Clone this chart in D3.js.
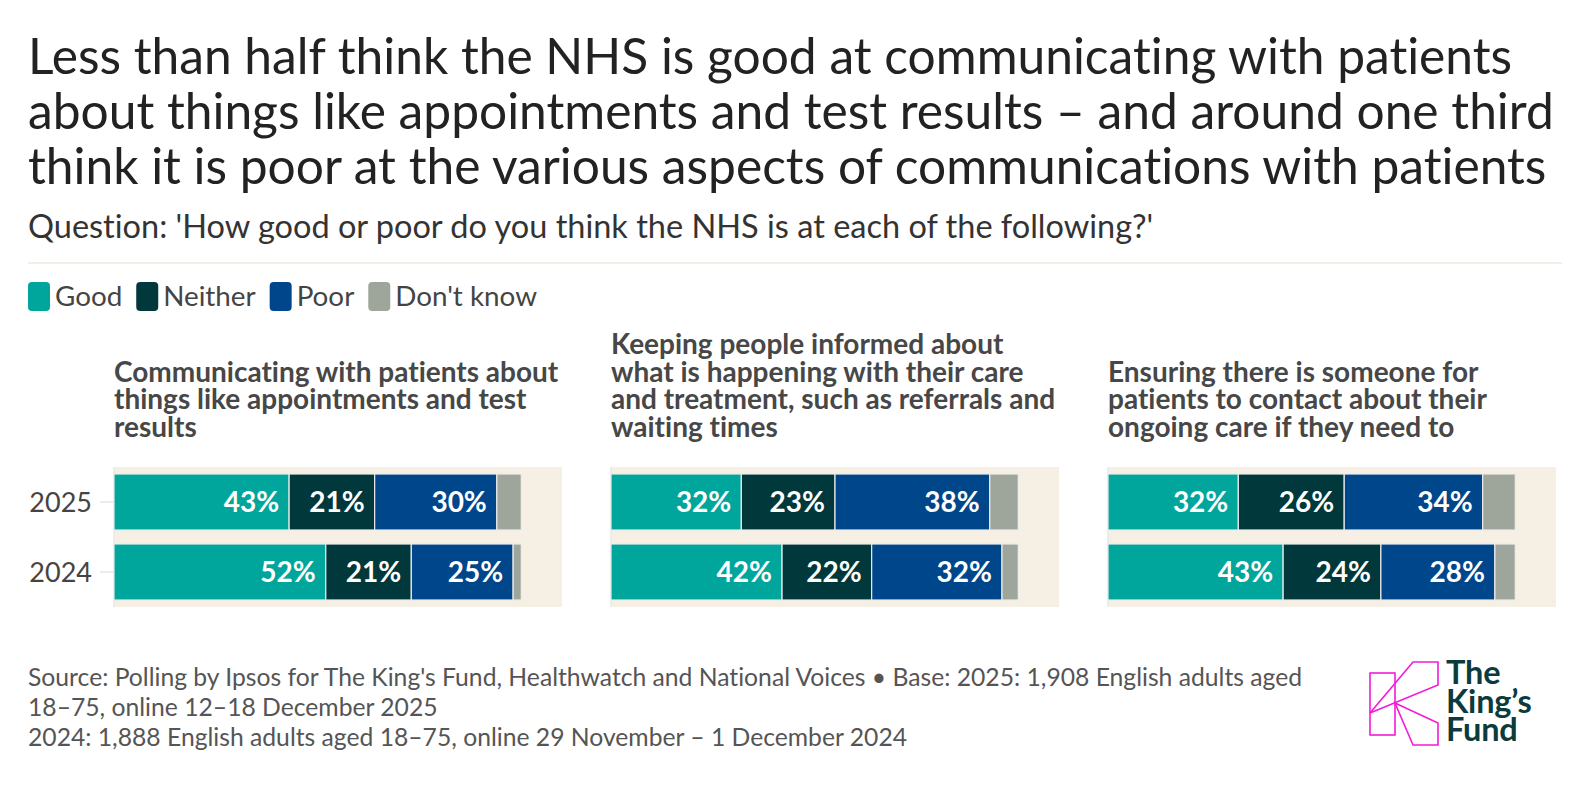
<!DOCTYPE html>
<html>
<head>
<meta charset="utf-8">
<script src="https://cdn.jsdelivr.net/npm/d3@7"></script>
<style>
  body { margin: 0; background: #fff; }
  svg { display: block; font-family: Lato, "Open Sans", sans-serif; }
  svg text { font-variant-ligatures: none; font-feature-settings: "liga" 0; }
</style>
</head>
<body>
<script>
var titleLines = [
  "Less than half think the NHS is good at communicating with patients",
  "about things like appointments and test results \u2013 and around one third",
  "think it is poor at the various aspects of communications with patients"
];
var subtitle = "Question: 'How good or poor do you think the NHS is at each of the following?'";

var seriesNames = ["Good", "Neither", "Poor", "Don't know"];
var seriesColors = ["#00a69c", "#00383b", "#00468b", "#9ea59a"];

var panelTitles = [
  ["Communicating with patients about", "things like appointments and test", "results"],
  ["Keeping people informed about", "what is happening with their care", "and treatment, such as referrals and", "waiting times"],
  ["Ensuring there is someone for", "patients to contact about their", "ongoing care if they need to"]
];
var years = ["2025", "2024"];

// one entry per panel, values per year [2025, 2024]
var good     = [[43, 52], [32, 42], [32, 43]];
var neither  = [[21, 21], [23, 22], [26, 24]];
var poor     = [[30, 25], [38, 32], [34, 28]];
var dontKnow = [[6, 2],   [7, 4],   [8, 5]];

var footerLines = [
  "Source: Polling by Ipsos for The King's Fund, Healthwatch and National Voices \u2022 Base: 2025: 1,908 English adults aged",
  "18\u201375, online 12\u201318 December 2025",
  "2024: 1,888 English adults aged 18\u201375, online 29 November \u2013 1 December 2024"
];

var width = 1590,
    height = 808;

var svg = d3.select("body").append("svg")
    .attr("width", width)
    .attr("height", height);

// title + subtitle
svg.append("g").selectAll("text")
    .data(titleLines)
  .enter().append("text")
    .attr("x", 28)
    .attr("y", function(d, i) { return 74 + i * 55; })
    .attr("font-size", 49.7)
    .attr("fill", "#222")
    .text(function(d) { return d; });

svg.append("text")
    .attr("x", 28)
    .attr("y", 238)
    .attr("font-size", 32.5)
    .attr("fill", "#333")
    .text(subtitle);

svg.append("line")
    .attr("x1", 28).attr("x2", 1562)
    .attr("y1", 263).attr("y2", 263)
    .attr("stroke", "#eeeae0")
    .attr("stroke-width", 1.5);

// legend
var legend = svg.append("g").attr("transform", "translate(28,282)");
var lx = 0;
seriesNames.forEach(function(name, i) {
  var item = legend.append("g").attr("transform", "translate(" + lx + ",0)");
  item.append("rect")
      .attr("width", 22).attr("height", 29)
      .attr("rx", 4)
      .attr("fill", seriesColors[i]);
  var t = item.append("text")
      .attr("x", 27).attr("y", 24)
      .attr("font-size", 27.8)
      .attr("fill", "#444")
      .text(name);
  lx += 27 + t.node().getComputedTextLength() + 14;
});

// panels
var panelLeft = [114, 611, 1108],
    plotW = 448;

var x = d3.scaleLinear().domain([0, 110]).range([0, plotW]);
var y = d3.scaleBand().domain(years).range([467, 607]).paddingInner(0.2).paddingOuter(0.1);
var stack = d3.stack().keys(seriesNames);

panelTitles.forEach(function(lines, p) {
  var g = svg.append("g").attr("transform", "translate(" + panelLeft[p] + ",0)");

  var rows = years.map(function(yr, j) {
    return { year: yr, "Good": good[p][j], "Neither": neither[p][j], "Poor": poor[p][j], "Don't know": dontKnow[p][j] };
  });
  var series = stack(rows);

  // panel title, bottom aligned
  g.append("g").selectAll("text")
      .data(lines)
    .enter().append("text")
      .attr("x", 0)
      .attr("y", function(d, i) { return 437 - (lines.length - 1 - i) * 27.7; })
      .attr("font-size", 28)
      .attr("font-weight", 700)
      .attr("fill", "#474747")
      .text(function(d) { return d; });

  g.append("rect")
      .attr("x", 0).attr("y", y.range()[0])
      .attr("width", plotW).attr("height", y.range()[1] - y.range()[0])
      .attr("fill", "#f5efe4");

  if (p == 0) {
    g.selectAll("line.tick")
        .data(years)
      .enter().append("line")
        .attr("class", "tick")
        .attr("x1", -14).attr("x2", 0)
        .attr("y1", function(d) { return y(d) + y.bandwidth() / 2; })
        .attr("y2", function(d) { return y(d) + y.bandwidth() / 2; })
        .attr("stroke", "#e6e6e6")
        .attr("stroke-width", 1.5);
    g.selectAll("text.year")
        .data(years)
      .enter().append("text")
        .attr("class", "year")
        .attr("x", -22)
        .attr("y", function(d) { return y(d) + y.bandwidth() / 2 + 10; })
        .attr("text-anchor", "end")
        .attr("font-size", 27)
        .attr("fill", "#444")
        .text(function(d) { return d; });
  }

  g.append("line")
      .attr("x1", 0).attr("x2", 0)
      .attr("y1", y.range()[0]).attr("y2", y.range()[1])
      .attr("stroke", "#e8e8e8")
      .attr("stroke-width", 1.5);

  var layer = g.selectAll("g.layer")
      .data(series)
    .enter().append("g")
      .attr("class", "layer")
      .attr("fill", function(d, i) { return seriesColors[i]; });

  layer.selectAll("rect")
      .data(function(d) { return d; })
    .enter().append("rect")
      .attr("x", function(d) { return x(d[0]); })
      .attr("y", function(d) { return y(d.data.year); })
      .attr("width", function(d) { return x(d[1]) - x(d[0]); })
      .attr("height", y.bandwidth())
      .attr("stroke", "#ececec")
      .attr("stroke-width", 1.2);

  layer.filter(function(d, i) { return i < 3; })
    .selectAll("text")
      .data(function(d) { return d; })
    .enter().append("text")
      .attr("x", function(d) { return x(d[1]) - 10; })
      .attr("y", function(d) { return y(d.data.year) + y.bandwidth() / 2 + 10; })
      .attr("text-anchor", "end")
      .attr("font-size", 28)
      .attr("font-weight", 700)
      .attr("fill", "#fff")
      .text(function(d) { return (d[1] - d[0]) + "%"; });
});

// footer
svg.append("g").selectAll("text")
    .data(footerLines)
  .enter().append("text")
    .attr("x", 28)
    .attr("y", function(d, i) { return 686 + i * 30; })
    .attr("font-size", 24.7)
    .attr("fill", "#555")
    .text(function(d) { return d; });

// logo
var logo = svg.append("g")
    .attr("fill", "none")
    .attr("stroke", "#f21cd6")
    .attr("stroke-width", 1.6)
    .attr("stroke-linejoin", "miter");
logo.append("rect").attr("x", 1370).attr("y", 673).attr("width", 25).attr("height", 62);
logo.append("polygon").attr("points", "1370,713 1413,662 1438,662 1438,685");
logo.append("polygon").attr("points", "1395,703 1438,723 1438,745 1413,745");

var logoText = ["The", "King\u2019s", "Fund"];
svg.append("g").selectAll("text")
    .data(logoText)
  .enter().append("text")
    .attr("x", 1446)
    .attr("y", function(d, i) { return 684 + i * 28.5; })
    .attr("font-size", 32.5)
    .attr("font-weight", 700)
    .attr("letter-spacing", -0.2)
    .attr("fill", "#0b3b3c")
    .text(function(d) { return d; });
</script>
</body>
</html>
